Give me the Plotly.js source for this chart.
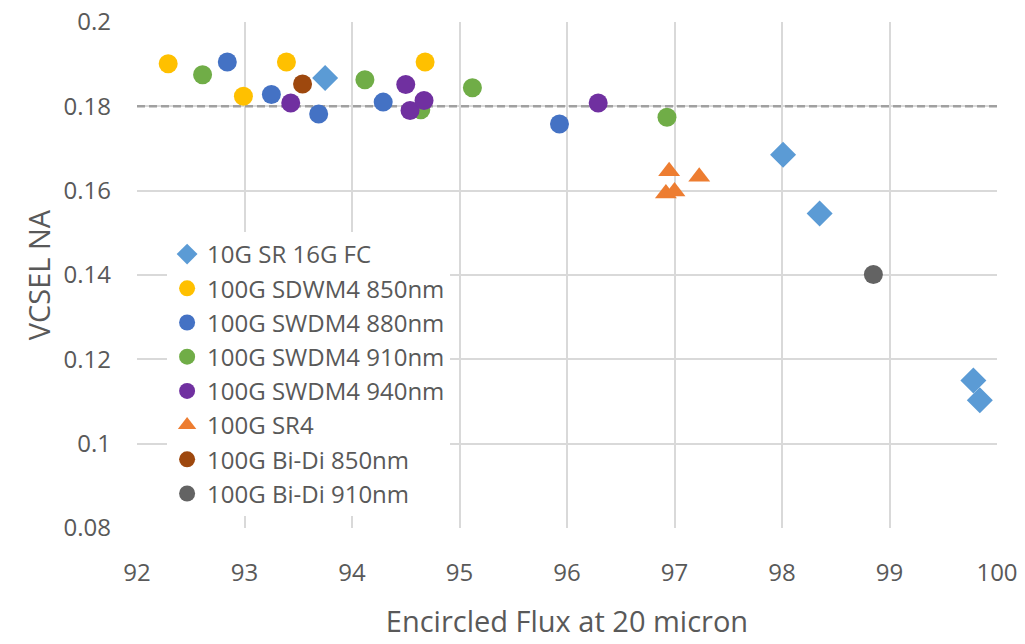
<!DOCTYPE html>
<html>
<head>
<meta charset="utf-8">
<script src="https://cdn.plot.ly/plotly-3.0.1.min.js"></script>
<style>html,body{margin:0;padding:0;background:#fff;}#chart{width:1025px;height:644px;}</style>
</head>
<body>
<div id="chart"></div>
<script>
// Series names
const seriesNames = ["10G SR 16G FC", "100G SDWM4 850nm", "100G SWDM4 880nm", "100G SWDM4 910nm", "100G SWDM4 940nm", "100G SR4", "100G Bi-Di 850nm", "100G Bi-Di 910nm"];

// Data (x = Encircled Flux at 20 micron, y = VCSEL NA)
const sr16fcX = [93.75, 98.01, 98.35, 99.78, 99.84];
const sr16fcY = [0.1867, 0.1685, 0.1546, 0.1150, 0.1103];
const swdm850X = [92.29, 92.99, 93.39, 94.68];
const swdm850Y = [0.1901, 0.1824, 0.1905, 0.1905];
const swdm880X = [92.84, 93.25, 93.69, 94.29, 95.93];
const swdm880Y = [0.1905, 0.1828, 0.1782, 0.1810, 0.1758];
const swdm910X = [92.61, 94.12, 94.64, 95.12, 96.93];
const swdm910Y = [0.1875, 0.1863, 0.1792, 0.1844, 0.1774];
const swdm940X = [93.43, 94.50, 94.54, 94.67, 96.29];
const swdm940Y = [0.1808, 0.1852, 0.1790, 0.1814, 0.1808];
const sr4X = [96.95, 97.23, 96.92, 97.00];
const sr4Y = [0.1646, 0.1633, 0.1593, 0.1598];
const bidi850X = [93.54];
const bidi850Y = [0.1853];
const bidi910X = [98.85];
const bidi910Y = [0.1401];

const thresholdNA = 0.18;
const xTicks = [92, 93, 94, 95, 96, 97, 98, 99, 100];
const yTicks = [0.08, 0.1, 0.12, 0.14, 0.16, 0.18, 0.2];
const yTickText = ["0.08", "0.1", "0.12", "0.14", "0.16", "0.18", "0.2"];

const xs = [sr16fcX, swdm850X, swdm880X, swdm910X, swdm940X, sr4X, bidi850X, bidi910X];
const ys = [sr16fcY, swdm850Y, swdm880Y, swdm910Y, swdm940Y, sr4Y, bidi850Y, bidi910Y];
const colors = ["#5B9BD5", "#FFC000", "#4472C4", "#70AD47", "#7030A0", "#ED7D31", "#9E480E", "#636363"];
const symbols = ["diamond", "circle", "circle", "circle", "circle", "triangle-up", "circle", "circle"];
const sizes = [20, 19, 19, 19, 19, 19, 19, 19];

const thresholdTrace = {
  type: "scatter", mode: "lines", name: "threshold", showlegend: false, hoverinfo: "skip",
  x: [xTicks[0], xTicks[xTicks.length - 1]], y: [thresholdNA, thresholdNA],
  line: {color: "#A0A0A0", width: 2.5, dash: "8px,4px"}, cliponaxis: false
};

const traces = [thresholdTrace].concat(seriesNames.map((n, i) => ({
  type: "scatter", mode: "markers", name: n, x: xs[i], y: ys[i],
  marker: {color: colors[i], symbol: symbols[i], size: sizes[i], line: {width: 0}}
})));

const fontFam = "Open Sans, Noto Sans, sans-serif";
const layout = {
  width: 1025, height: 644,
  margin: {l: 137, r: 28, t: 22, b: 116},
  paper_bgcolor: "#ffffff", plot_bgcolor: "#ffffff",
  showlegend: true,
  font: {family: fontFam, color: "#595959", size: 24},
  xaxis: {
    range: [92, 100], tickvals: xTicks, ticktext: xTicks.map(String),
    showgrid: true, gridcolor: "#D9D9D9", gridwidth: 2,
    zeroline: false, showline: false, ticks: "", ticklabelstandoff: 28,
    tickfont: {size: 24, color: "#595959"},
    title: {text: "Encircled Flux at 20 micron", font: {size: 29, color: "#595959"}, standoff: 24}
  },
  yaxis: {
    range: [0.08, 0.2], tickvals: yTicks, ticktext: yTickText,
    showgrid: true, gridcolor: "#D9D9D9", gridwidth: 2,
    zeroline: false, showline: false, ticks: "", ticklabelstandoff: 25,
    tickfont: {size: 24, color: "#595959"},
    title: {text: "VCSEL NA", font: {size: 29, color: "#595959"}, standoff: 4}
  },
  legend: {
    x: 0.035, y: 0.585, xanchor: "left", yanchor: "top",
    bgcolor: "#ffffff", borderwidth: 0,
    font: {size: 24, color: "#595959"}, itemwidth: 30, tracegroupgap: 0
  }
};

Plotly.newPlot("chart", traces, layout, {displayModeBar: false, staticPlot: true});
</script>
</body>
</html>
